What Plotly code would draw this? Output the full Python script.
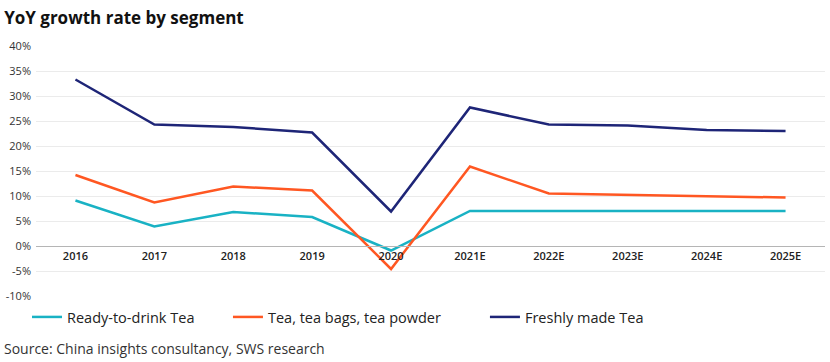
import plotly.graph_objects as go

categories = ["2016", "2017", "2018", "2019", "2020", "2021E", "2022E", "2023E", "2024E", "2025E"]
ready_to_drink = [9.1, 3.9, 6.8, 5.8, -0.9, 7.0, 7.0, 7.0, 7.0, 7.0]
tea_bags = [14.2, 8.7, 11.9, 11.1, -4.6, 15.9, 10.5, 10.2, 10.0, 9.7]
freshly_made = [33.3, 24.3, 23.8, 22.7, 6.9, 27.7, 24.3, 24.1, 23.2, 23.0]
y_ticks = [-10, -5, 0, 5, 10, 15, 20, 25, 30, 35, 40]

FONT = "Open Sans"

fig = go.Figure()
series = [
    ("Ready-to-drink Tea", ready_to_drink, "#19B2C4", "legend", -0.0114),
    ("Tea, tea bags, tea powder", tea_bags, "#FF5722", "legend2", 0.2433),
    ("Freshly made Tea", freshly_made, "#1E2577", "legend3", 0.569),
]
legend_cfg = {}
for name, vals, color, lg, lx in series:
    fig.add_trace(go.Scatter(x=categories, y=vals, name=name, mode="lines",
                             line=dict(color=color, width=2.5), legend=lg))
    legend_cfg[lg] = dict(orientation="h", x=lx, xanchor="left", y=-0.02, yanchor="top",
                          font=dict(size=14.5, color="#222222", family=FONT),
                          bgcolor="rgba(0,0,0,0)")

fig.update_layout(
    width=830, height=362,
    margin=dict(l=36, r=5, t=46, b=66),
    paper_bgcolor="white", plot_bgcolor="white",
    font=dict(family=FONT, color="#333333", size=11),
    title=dict(text="<b>YoY growth rate by segment</b>", x=0.005, xanchor="left",
               y=0.95, yanchor="middle", font=dict(size=17, color="#111111", family=FONT)),
    showlegend=True,
    xaxis=dict(type="category", range=[-0.5, 9.5], anchor="free", position=0.2,
               showline=True, linecolor="#B5B5B5", linewidth=1, showgrid=False,
               ticks="", tickfont=dict(size=11, color="#222222", weight=600), zeroline=False),
    yaxis=dict(range=[-10, 40], tickvals=y_ticks,
               ticktext=[f"{v}%" for v in y_ticks], showgrid=True,
               gridcolor="#EBEBEB", gridwidth=1, zeroline=False,
               tickfont=dict(size=11, color="#333333"), ticks="", ticklabelstandoff=4),
    annotations=[dict(text="Source: China insights consultancy, SWS research",
                      xref="paper", yref="paper", x=-0.043, y=-0.162, xanchor="left",
                      yanchor="top", showarrow=False,
                      font=dict(size=14, color="#333333", family=FONT))],
    **legend_cfg,
)

fig.write_html("out.html", config={"displayModeBar": False},
               post_script="document.body.style.margin='0';")
